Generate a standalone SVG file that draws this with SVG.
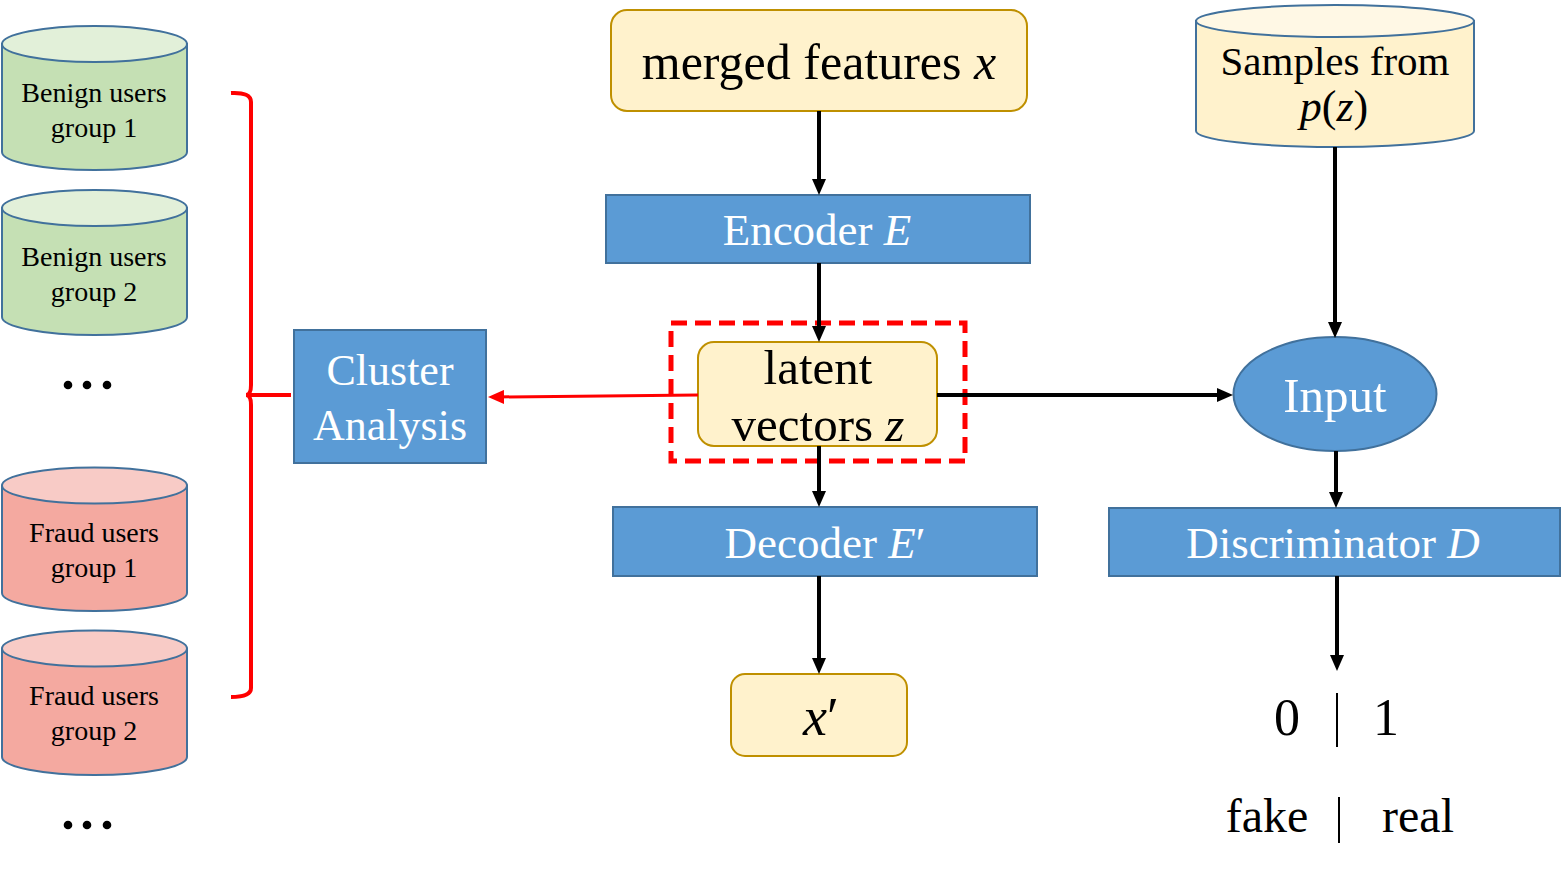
<svg xmlns="http://www.w3.org/2000/svg" width="1561" height="878" viewBox="0 0 1561 878">
<style>
text{font-family:"Liberation Serif","Times New Roman",serif;text-anchor:middle}
.cyl{stroke:#41719C;stroke-width:2}
.g-body{fill:#C5E0B4}.g-top{fill:#E2F0D9}
.r-body{fill:#F4A9A0}.r-top{fill:#F8CBC6}
.y-body{fill:#FFF2CC}.y-top{fill:#FFF8E5}
.blue{fill:#5B9BD5;stroke:#41719C;stroke-width:2}
.yel{fill:#FFF2CC;stroke:#BF9000;stroke-width:2}
.wt{fill:#FFFFFF}
.bk{fill:#000000}
.ar{stroke:#000;stroke-width:4;fill:none;marker-end:url(#ah)}
.i{font-style:italic}
</style>
<defs>
<marker id="ah" viewBox="0 0 16 14" refX="7" refY="7" markerWidth="16" markerHeight="14" markerUnits="userSpaceOnUse" orient="auto">
<path d="M0,0 L16,7 L0,14 Z" fill="#000"/>
</marker>
<marker id="ahr" viewBox="0 0 16 14" refX="7" refY="7" markerWidth="16" markerHeight="14" markerUnits="userSpaceOnUse" orient="auto">
<path d="M0,0 L16,7 L0,14 Z" fill="#FF0000"/>
</marker>
</defs>

<g id="benign1">
<path class="cyl g-body" d="M2,44 L2,152 A92.5,18 0 0 0 187,152 L187,44 Z"/>
<ellipse class="cyl g-top" cx="94.5" cy="44" rx="92.5" ry="18"/>
<text x="94" y="102" font-size="28">Benign users</text>
<text x="94" y="137" font-size="28">group 1</text>
</g>
<g id="benign2">
<path class="cyl g-body" d="M2,208 L2,317 A92.5,18 0 0 0 187,317 L187,208 Z"/>
<ellipse class="cyl g-top" cx="94.5" cy="208" rx="92.5" ry="18"/>
<text x="94" y="266" font-size="28">Benign users</text>
<text x="94" y="301" font-size="28">group 2</text>
</g>
<g id="dots1">
<circle cx="68" cy="385" r="4.3" class="bk"/><circle cx="87" cy="385" r="4.3" class="bk"/><circle cx="107" cy="385" r="4.3" class="bk"/>
</g>
<g id="fraud1">
<path class="cyl r-body" d="M2,485.5 L2,593 A92.5,18 0 0 0 187,593 L187,485.5 Z"/>
<ellipse class="cyl r-top" cx="94.5" cy="485.5" rx="92.5" ry="18"/>
<text x="94" y="542" font-size="28">Fraud users</text>
<text x="94" y="577" font-size="28">group 1</text>
</g>
<g id="fraud2">
<path class="cyl r-body" d="M2,648.5 L2,757 A92.5,18 0 0 0 187,757 L187,648.5 Z"/>
<ellipse class="cyl r-top" cx="94.5" cy="648.5" rx="92.5" ry="18"/>
<text x="94" y="705" font-size="28">Fraud users</text>
<text x="94" y="740" font-size="28">group 2</text>
</g>
<g id="dots2">
<circle cx="68" cy="825" r="4.3" class="bk"/><circle cx="87" cy="825" r="4.3" class="bk"/><circle cx="107" cy="825" r="4.3" class="bk"/>
</g>

<g id="bracket" fill="none" stroke="#FF0000" stroke-width="4">
<path d="M231,93 Q251,92 251,102 L251,385 Q251,395 246,395 Q251,395 251,405 L251,688 Q251,697 231,697"/>
<path d="M249,395 H291"/>
</g>

<g id="cluster">
<rect class="blue" x="294" y="330" width="192" height="133"/>
<text class="wt" x="390" y="385" font-size="44">Cluster</text>
<text class="wt" x="390" y="440" font-size="44">Analysis</text>
</g>

<g id="merged">
<rect class="yel" x="611" y="10" width="416" height="101" rx="16"/>
<text x="819" y="79" font-size="50">merged features <tspan class="i">x</tspan></text>
</g>

<g id="encoder">
<rect class="blue" x="606" y="195" width="424" height="68"/>
<text class="wt" x="817" y="245" font-size="45">Encoder <tspan class="i">E</tspan></text>
</g>

<g id="latentbox">
<rect x="671" y="323" width="294" height="138" fill="none" stroke="#FF0000" stroke-width="5" stroke-dasharray="16 8"/>
</g>

<g id="latent">
<rect class="yel" x="698" y="342" width="239" height="104" rx="16"/>
<text x="818" y="384" font-size="49">latent</text>
<text x="818" y="441" font-size="49">vectors <tspan class="i">z</tspan></text>
</g>

<g id="decoder">
<rect class="blue" x="613" y="507" width="424" height="69"/>
<text class="wt" x="825" y="558" font-size="45">Decoder <tspan class="i">E</tspan>′</text>
</g>

<g id="xprime">
<rect class="yel" x="731" y="674" width="176" height="82" rx="14"/>
<text x="821" y="735" font-size="54"><tspan class="i">x</tspan>′</text>
</g>

<g id="samples">
<path class="cyl y-body" d="M1196,21 L1196,131 A139,16 0 0 0 1474,131 L1474,21 Z"/>
<ellipse class="cyl y-top" cx="1335" cy="21" rx="139" ry="16"/>
<text x="1335" y="75" font-size="41">Samples from</text>
<text x="1334" y="121" font-size="44"><tspan class="i">p</tspan>(<tspan class="i">z</tspan>)</text>
</g>

<g id="input">
<ellipse class="blue" cx="1335" cy="394" rx="101.5" ry="57"/>
<text class="wt" x="1335" y="412" font-size="49">Input</text>
</g>

<g id="discriminator">
<rect class="blue" x="1109" y="508" width="451" height="68"/>
<text class="wt" x="1333" y="558" font-size="45">Discriminator <tspan class="i">D</tspan></text>
</g>

<g id="output">
<text x="1287" y="735" font-size="52">0</text>
<text x="1386" y="735" font-size="52">1</text>
<line x1="1337" y1="693" x2="1337" y2="747" stroke="#000" stroke-width="2"/>
<text x="1267" y="832" font-size="48">fake</text>
<text x="1418" y="832" font-size="48">real</text>
<line x1="1339" y1="797" x2="1339" y2="843" stroke="#000" stroke-width="2"/>
</g>

<g id="connectors">
<path class="ar" d="M819,111 L819,186"/>
<path class="ar" d="M819,263 L819,333"/>
<path class="ar" d="M819,446 L819,498"/>
<path class="ar" d="M819,576 L819,665"/>
<path class="ar" d="M937,395 L1224,395"/>
<path class="ar" d="M1335,147 L1335,329"/>
<path class="ar" d="M1336,451 L1336,499"/>
<path class="ar" d="M1337,576 L1337,662"/>
<path d="M698,395 L497,397" stroke="#FF0000" stroke-width="3" fill="none" marker-end="url(#ahr)"/>
</g>
</svg>
